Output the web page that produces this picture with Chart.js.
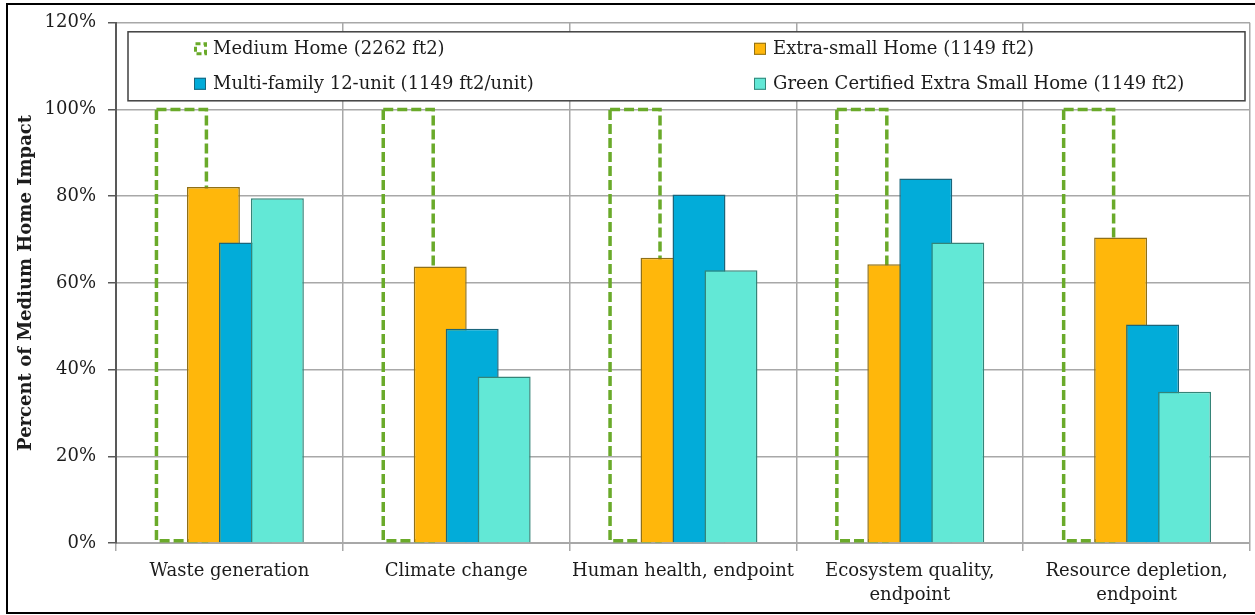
<!DOCTYPE html>
<html>
<head>
<meta charset="utf-8">
<title>Percent of Medium Home Impact</title>
<script src="https://cdn.jsdelivr.net/npm/chart.js@4.4.1/dist/chart.umd.min.js"></script>
<style>
  html, body { margin: 0; padding: 0; background: #ffffff; }
</style>
</head>
<body>
<canvas id="impact" width="1255" height="615"></canvas>
<script>
const categories = [
  "Waste generation",
  "Climate change",
  "Human health, endpoint",
  ["Ecosystem quality,", "endpoint"],
  ["Resource depletion,", "endpoint"],
];
const seriesNames = [
  "Medium Home (2262 ft2)",
  "Extra-small Home (1149 ft2)",
  "Multi-family 12-unit (1149 ft2/unit)",
  "Green Certified Extra Small Home (1149 ft2)",
];
const mediumHome = [100, 100, 100, 100, 100];
const extraSmall = [82.1, 63.8, 65.8, 64.3, 70.5];
const multiFamily = [69.3, 49.4, 80.4, 84.1, 50.4];
const greenCertified = [79.5, 38.4, 62.9, 69.3, 34.9];
const yTicks = [0, 20, 40, 60, 80, 100, 120];

const FONT = '"DejaVu Serif", "Liberation Serif", serif';
const TEXT = "#1c1c1c";
const GRID = "#a8a8a8";
const GREEN = "#6aaa2a";

const COLORS = {
  fill: ["rgba(0,0,0,0)", "#ffb70b", "#02acd9", "#62e8d6"],
  line: [GREEN, "#8f7018", "#1a657b", "#358478"],
};

// medium home bars are dashed outlines (bar borders can't be dashed),
// and the overlapping bars have to be painted left to right
const barPainter = {
  id: "barPainter",
  beforeDatasetsDraw(chart) {
    const ctx = chart.ctx;
    const meta = chart.getDatasetMeta(0);
    ctx.save();
    ctx.strokeStyle = GREEN;
    ctx.lineWidth = 3.5;
    ctx.setLineDash([10, 4]);
    meta.data.forEach((bar) => {
      const p = bar.getProps(["x", "y", "base", "width"], true);
      ctx.strokeRect(p.x - p.width / 2 + 1.5, p.y, p.width - 3, p.base - p.y - 1.5);
    });
    ctx.restore();

    for (let i = 1; i < chart.data.datasets.length; i++) {
      chart.getDatasetMeta(i).controller.draw();
    }
    return false;
  },
};

// boxed two-column legend sitting over the top of the plot
const boxLegend = {
  id: "boxLegend",
  afterDraw(chart) {
    const { ctx, chartArea: a } = chart;
    const x0 = a.left + 12;
    const y0 = a.top + 9;
    const w = a.right - 5 - x0;
    const h = 69;
    ctx.save();
    ctx.fillStyle = "#ffffff";
    ctx.fillRect(x0, y0, w, h);
    ctx.strokeStyle = "#404040";
    ctx.lineWidth = 1.5;
    ctx.strokeRect(x0, y0, w, h);

    const cols = [x0 + 66, x0 + 626];
    const rows = [y0 + 17, y0 + 52];
    const slot = [[0, 0], [1, 0], [0, 1], [1, 1]];
    ctx.font = "18px " + FONT;
    ctx.textBaseline = "middle";
    seriesNames.forEach((name, i) => {
      const mx = cols[slot[i][0]];
      const cy = rows[slot[i][1]];
      if (i === 0) {
        ctx.strokeStyle = GREEN;
        ctx.lineWidth = 3;
        ctx.setLineDash([5, 3]);
        ctx.strokeRect(mx + 1.5, cy - 5, 10, 10);
        ctx.setLineDash([]);
      } else {
        ctx.fillStyle = COLORS.fill[i];
        ctx.fillRect(mx, cy - 6, 12, 12);
        ctx.strokeStyle = COLORS.line[i];
        ctx.lineWidth = 1;
        ctx.strokeRect(mx + 0.5, cy - 5.5, 11, 11);
      }
      ctx.fillStyle = TEXT;
      ctx.fillText(name, mx + 19, cy + 1);
    });

    // outer frame of the figure
    ctx.strokeStyle = "#000000";
    ctx.lineWidth = 2;
    ctx.strokeRect(7, 4, 1260, 609);
    ctx.restore();
  },
};

const datasets = [mediumHome, extraSmall, multiFamily, greenCertified].map((values, i) => ({
  label: seriesNames[i],
  data: values,
  backgroundColor: COLORS.fill[i],
  borderColor: COLORS.line[i],
  borderWidth: i === 0 ? 0 : 1.5,
  borderSkipped: "bottom",
  categoryPercentage: 0.564,
  barPercentage: 1.656,
}));

new Chart(document.getElementById("impact"), {
  type: "bar",
  data: { labels: categories, datasets },
  options: {
    responsive: false,
    animation: false,
    layout: { padding: { left: 0, right: 5, top: 22, bottom: 0 } },
    plugins: {
      legend: { display: false },
      tooltip: { enabled: false },
    },
    scales: {
      x: {
        grid: { offset: true, color: GRID, lineWidth: 1.5, tickLength: 8 },
        border: { color: GRID, width: 2 },
        ticks: {
          font: { family: FONT, size: 18, lineHeight: 1.35 },
          color: TEXT,
          padding: 8,
          maxRotation: 0,
          autoSkip: false,
        },
        afterFit(scale) {
          scale.height = 72;
        },
      },
      y: {
        min: 0,
        max: 120,
        afterBuildTicks(axis) {
          axis.ticks = yTicks.map((v) => ({ value: v }));
        },
        ticks: {
          font: { family: FONT, size: 18 },
          color: TEXT,
          padding: 12,
          callback: (v) => v + "%",
        },
        grid: { color: GRID, lineWidth: 1.5, tickLength: 8, tickColor: "#595959" },
        border: { color: "#595959", width: 2 },
        title: {
          display: true,
          text: "Percent of Medium Home Impact",
          font: { family: FONT, size: 18, weight: "bold" },
          color: TEXT,
          padding: { top: 16, bottom: 0 },
        },
        afterFit(scale) {
          scale.width = 116;
        },
      },
    },
  },
  plugins: [barPainter, boxLegend],
});
</script>
</body>
</html>
